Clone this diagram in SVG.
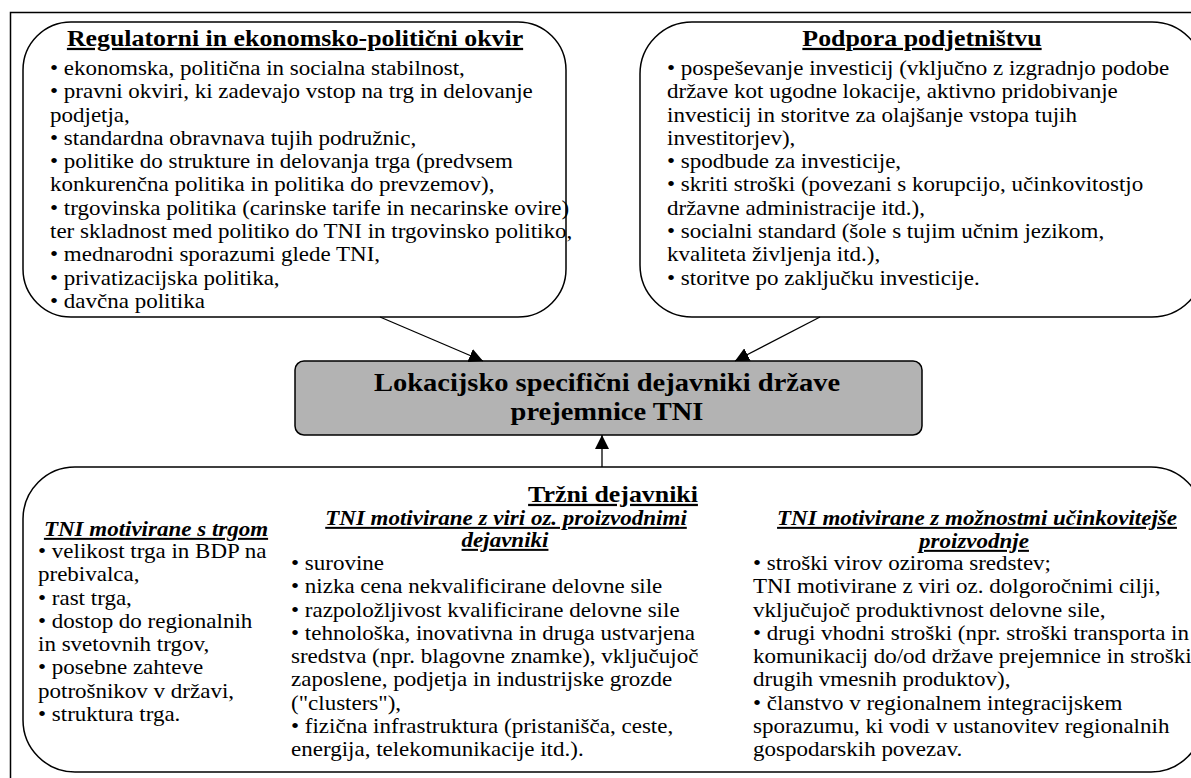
<svg xmlns="http://www.w3.org/2000/svg" width="1191" height="778" viewBox="0 0 1191 778">
<defs>
<marker id="ah" viewBox="0 0 14 14" refX="14" refY="7" markerWidth="14" markerHeight="14" markerUnits="userSpaceOnUse" orient="auto">
<path d="M0,0 L14,7 L0,14 z" fill="#000"/>
</marker>
<style>
.box{fill:#fff;stroke:#000;stroke-width:1.5}
.core{fill:#b3b3b3;stroke:#000;stroke-width:1.5}
.t{font-family:"Liberation Serif","Times New Roman",serif;font-size:20px;fill:#000}
.h{font-family:"Liberation Serif","Times New Roman",serif;font-size:22.5px;font-weight:bold;text-decoration:underline;fill:#000}
.hi{font-family:"Liberation Serif","Times New Roman",serif;font-size:20px;font-weight:bold;font-style:italic;text-decoration:underline;fill:#000}
.c{font-family:"Liberation Serif","Times New Roman",serif;font-size:25px;font-weight:bold;fill:#000}
.conn{stroke:#000;stroke-width:1.3;fill:none;marker-end:url(#ah)}
</style>
</defs>
<rect x="10.5" y="12.5" width="1200" height="800" fill="#fff" stroke="#000" stroke-width="1.5"/>
<g id="regulatorni">
<rect class="box" x="23" y="22" width="543" height="295" rx="48" ry="48"/>
<text class="h" transform="translate(295,46) scale(1.15,1)" text-anchor="middle">Regulatorni in ekonomsko-politični okvir</text>
<g transform="translate(50,0) scale(1.15,1)">
<text class="t" x="0" y="75">• ekonomska, politična in socialna stabilnost,</text>
<text class="t" x="0" y="98.3">• pravni okviri, ki zadevajo vstop na trg in delovanje</text>
<text class="t" x="0" y="121.6">podjetja,</text>
<text class="t" x="0" y="144.9">• standardna obravnava tujih podružnic,</text>
<text class="t" x="0" y="168.2">• politike do strukture in delovanja trga (predvsem</text>
<text class="t" x="0" y="191.5">konkurenčna politika in politika do prevzemov),</text>
<text class="t" x="0" y="214.8">• trgovinska politika (carinske tarife in necarinske ovire)</text>
<text class="t" x="0" y="238.1">ter skladnost med politiko do TNI in trgovinsko politiko,</text>
<text class="t" x="0" y="261.4">• mednarodni sporazumi glede TNI,</text>
<text class="t" x="0" y="284.7">• privatizacijska politika,</text>
<text class="t" x="0" y="308">• davčna politika</text>
</g>
</g>
<g id="podpora">
<rect class="box" x="640" y="22" width="564" height="295" rx="52" ry="52"/>
<text class="h" transform="translate(922,46) scale(1.15,1)" text-anchor="middle">Podpora podjetništvu</text>
<g transform="translate(667,0) scale(1.15,1)">
<text class="t" x="0" y="75">• pospeševanje investicij (vključno z izgradnjo podobe</text>
<text class="t" x="0" y="98.3">države kot ugodne lokacije, aktivno pridobivanje</text>
<text class="t" x="0" y="121.6">investicij in storitve za olajšanje vstopa tujih</text>
<text class="t" x="0" y="144.9">investitorjev),</text>
<text class="t" x="0" y="168.2">• spodbude za investicije,</text>
<text class="t" x="0" y="191.5">• skriti stroški (povezani s korupcijo, učinkovitostjo</text>
<text class="t" x="0" y="214.8">državne administracije itd.),</text>
<text class="t" x="0" y="238.1">• socialni standard (šole s tujim učnim jezikom,</text>
<text class="t" x="0" y="261.4">kvaliteta življenja itd.),</text>
<text class="t" x="0" y="284.7">• storitve po zaključku investicije.</text>
</g>
</g>
<g id="lokacijski">
<rect class="core" x="295" y="361" width="627" height="74" rx="9" ry="9"/>
<text class="c" transform="translate(607,391) scale(1.14,1)" text-anchor="middle">Lokacijsko specifični dejavniki države</text>
<text class="c" transform="translate(607,420) scale(1.14,1)" text-anchor="middle">prejemnice TNI</text>
</g>
<g id="trzni">
<rect class="box" x="23" y="467" width="1180" height="305" rx="52" ry="52"/>
<text class="h" transform="translate(613,502) scale(1.15,1)" text-anchor="middle">Tržni dejavniki</text>
<text class="hi" transform="translate(156,536) scale(1.15,1)" text-anchor="middle">TNI motivirane s trgom</text>
<g transform="translate(38,0) scale(1.15,1)">
<text class="t" x="0" y="558">• velikost trga in BDP na</text>
<text class="t" x="0" y="581.3">prebivalca,</text>
<text class="t" x="0" y="604.6">• rast trga,</text>
<text class="t" x="0" y="627.9">• dostop do regionalnih</text>
<text class="t" x="0" y="651.2">in svetovnih trgov,</text>
<text class="t" x="0" y="674.5">• posebne zahteve</text>
<text class="t" x="0" y="697.8">potrošnikov v državi,</text>
<text class="t" x="0" y="721.1">• struktura trga.</text>
</g>
<text class="hi" transform="translate(506,525) scale(1.15,1)" text-anchor="middle">TNI motivirane z viri oz. proizvodnimi</text>
<text class="hi" transform="translate(505,547) scale(1.15,1)" text-anchor="middle">dejavniki</text>
<g transform="translate(291,0) scale(1.15,1)">
<text class="t" x="0" y="570">• surovine</text>
<text class="t" x="0" y="593.3">• nizka cena nekvalificirane delovne sile</text>
<text class="t" x="0" y="616.6">• razpoložljivost kvalificirane delovne sile</text>
<text class="t" x="0" y="639.9">• tehnološka, inovativna in druga ustvarjena</text>
<text class="t" x="0" y="663.2">sredstva (npr. blagovne znamke), vključujoč</text>
<text class="t" x="0" y="686.5">zaposlene, podjetja in industrijske grozde</text>
<text class="t" x="0" y="709.8">("clusters"),</text>
<text class="t" x="0" y="733.1">• fizična infrastruktura (pristanišča, ceste,</text>
<text class="t" x="0" y="756.4">energija, telekomunikacije itd.).</text>
</g>
<text class="hi" transform="translate(977,525) scale(1.15,1)" text-anchor="middle">TNI motivirane z možnostmi učinkovitejše</text>
<text class="hi" transform="translate(974,548) scale(1.15,1)" text-anchor="middle">proizvodnje</text>
<g transform="translate(753,0) scale(1.15,1)">
<text class="t" x="0" y="570">• stroški virov oziroma sredstev;</text>
<text class="t" x="0" y="593.3">TNI motivirane z viri oz. dolgoročnimi cilji,</text>
<text class="t" x="0" y="616.6">vključujoč produktivnost delovne sile,</text>
<text class="t" x="0" y="639.9">• drugi vhodni stroški (npr. stroški transporta in</text>
<text class="t" x="0" y="663.2">komunikacij do/od države prejemnice in stroški</text>
<text class="t" x="0" y="686.5">drugih vmesnih produktov),</text>
<text class="t" x="0" y="709.8">• članstvo v regionalnem integracijskem</text>
<text class="t" x="0" y="733.1">sporazumu, ki vodi v ustanovitev regionalnih</text>
<text class="t" x="0" y="756.4">gospodarskih povezav.</text>
</g>
</g>
<g id="connectors">
<line class="conn" x1="380" y1="317" x2="483" y2="361"/>
<line class="conn" x1="820" y1="317" x2="735" y2="361"/>
<line class="conn" x1="602" y1="467" x2="602" y2="435"/>
</g>
</svg>
